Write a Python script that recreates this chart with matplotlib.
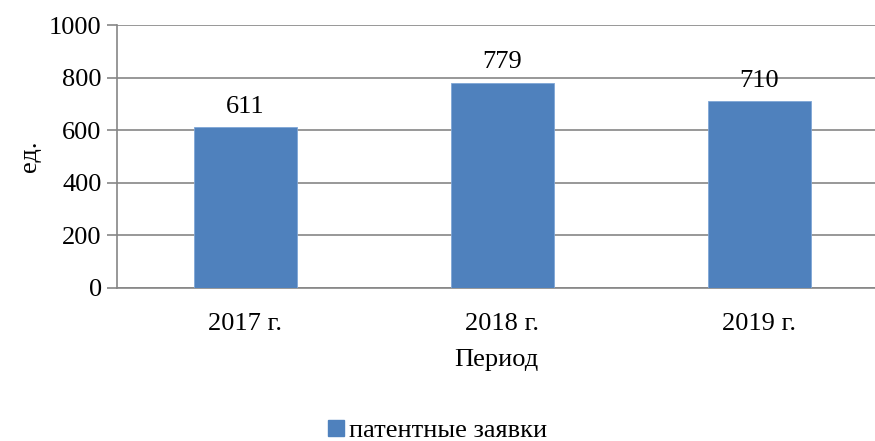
import matplotlib
matplotlib.use('Agg')
import matplotlib.pyplot as plt
from matplotlib.patches import Patch

categories = ['2017 г.', '2018 г.', '2019 г.']
values = [611, 779, 710]
series_name = 'патентные заявки'

plt.rcParams['font.family'] = ['Liberation Serif', 'DejaVu Serif']

fig = plt.figure(figsize=(8.75, 4.41), dpi=100)
ax = fig.add_axes([117 / 875, 1 - 288 / 441, 1 - 117 / 875, (288 - 25) / 441])

x = list(range(len(categories)))
bar_color = '#4f81bd'
bars = ax.bar(x, values, width=0.40, color=bar_color, edgecolor='#7fa6d6', linewidth=0.6, zorder=3)

for xi, v in zip(x, values):
    ax.annotate(str(v), (xi, v), xytext=(0, 7), textcoords='offset points',
                ha='center', va='bottom', fontsize=19)

ax.set_ylim(0, 1000)
ax.set_yticks(range(0, 1001, 200))
ax.set_xlim(-0.5, 2.45)
ax.set_xticks(x)
ax.set_xticklabels(categories)
ax.tick_params(axis='y', length=7, width=1.2, color='#868686', labelsize=19, pad=4)
ax.tick_params(axis='x', length=0, labelsize=19, pad=18)

ax.grid(axis='y', color='#868686', linewidth=1.2, zorder=0)
for s in ['top', 'right']:
    ax.spines[s].set_visible(False)
ax.spines['left'].set_color('#868686')
ax.spines['left'].set_linewidth(1.2)
ax.spines['bottom'].set_color('#868686')
ax.spines['bottom'].set_linewidth(1.2)

ax.set_ylabel('ед.', fontsize=19, labelpad=6)
ax.set_xlabel('Период', fontsize=19, labelpad=10)

fig.legend(handles=[Patch(color=bar_color, label=series_name)],
           loc='center', bbox_to_anchor=(0.5, 1 - 431 / 441), frameon=False,
           fontsize=19, handlelength=0.6, handleheight=0.6, handletextpad=0.2)

fig.savefig('out.png', dpi=100)
